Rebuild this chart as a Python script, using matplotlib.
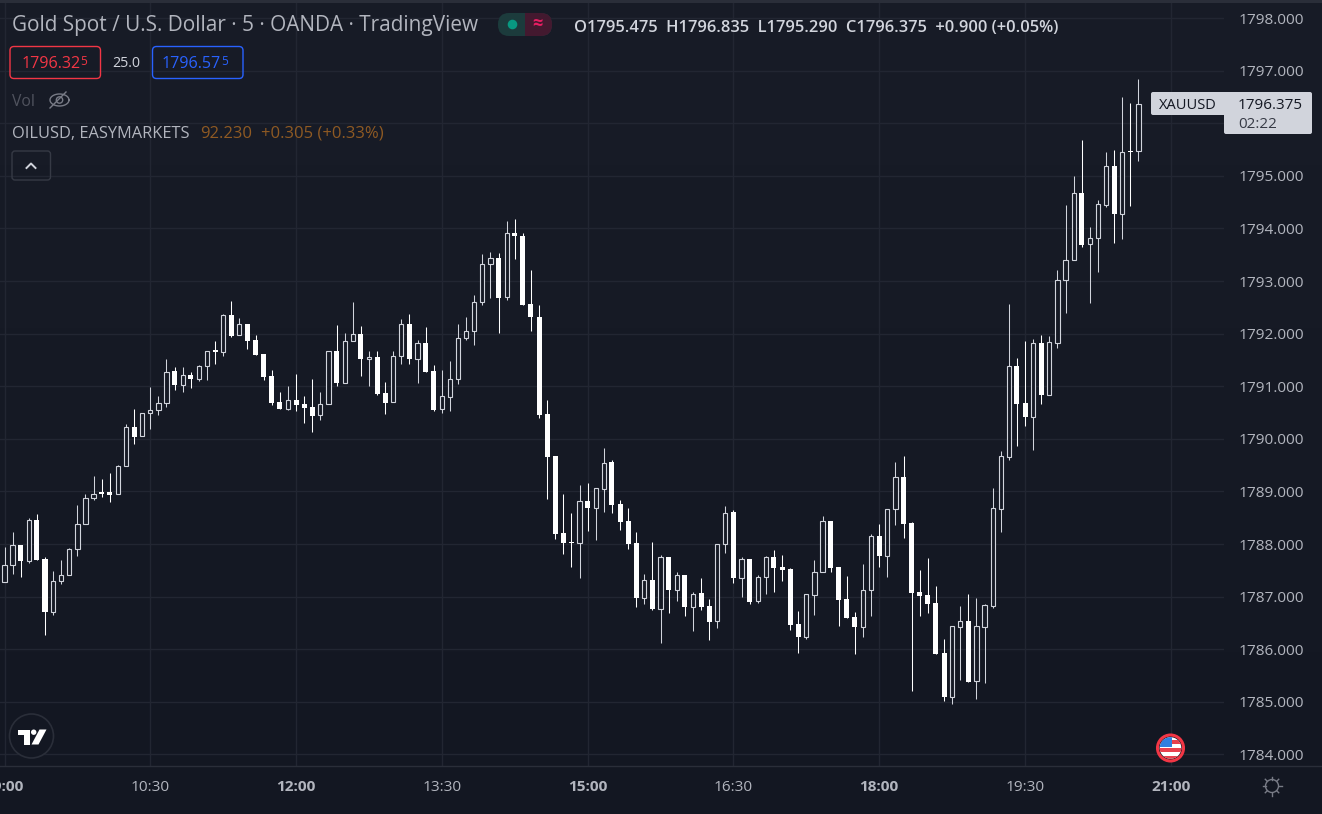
import numpy as np
import matplotlib
matplotlib.use('Agg')
import matplotlib.pyplot as plt
from matplotlib.patches import Circle, FancyBboxPatch, Polygon, Rectangle

plt.rcParams['font.family'] = ['Open Sans', 'DejaVu Sans']

# ----------------------------- data -----------------------------
opens = [
    1787.27, 1787.61, 1787.98, 1787.67, 1788.46, 1787.71, 1786.70, 1787.29, 1787.41, 1787.90,
    1788.39, 1788.87, 1788.99, 1788.99, 1788.95, 1789.48, 1790.22, 1790.05, 1790.49, 1790.54,
    1790.69, 1791.29, 1791.03, 1791.21, 1791.14, 1791.38, 1791.69, 1791.66, 1792.35, 1791.97,
    1792.18, 1791.88, 1791.61, 1791.20, 1790.70, 1790.57, 1790.74, 1790.66, 1790.61, 1790.45,
    1790.66, 1791.67, 1791.07, 1791.87, 1792.00, 1791.51, 1791.56, 1790.87, 1790.70, 1791.57,
    1792.19, 1791.51, 1791.82, 1791.29, 1790.56, 1790.80, 1791.13, 1791.91, 1792.05, 1792.60,
    1793.32, 1793.44, 1792.69, 1793.92, 1793.86, 1792.57, 1792.32, 1790.47, 1789.68, 1788.21,
    1788.04, 1788.03, 1788.82, 1788.69, 1789.05, 1789.56, 1788.76, 1788.44, 1788.02, 1786.98,
    1787.32, 1786.77, 1787.76, 1787.13, 1787.41, 1786.81, 1787.07, 1786.82, 1786.53, 1788.01,
    1788.61, 1787.36, 1787.72, 1786.91, 1787.37, 1787.76, 1787.56, 1787.53, 1786.48, 1786.24,
    1787.04, 1787.46, 1788.44, 1787.56, 1786.96, 1786.61, 1786.43, 1787.12, 1788.15, 1787.78,
    1788.66, 1789.28, 1788.40, 1787.09, 1787.03, 1786.88, 1785.93, 1785.10, 1786.43, 1786.54,
    1785.39, 1786.43, 1786.83, 1788.67, 1789.66, 1791.38, 1790.68, 1790.42, 1791.82, 1790.84,
    1791.83, 1793.03, 1793.41, 1794.67, 1793.70, 1793.81, 1794.45, 1795.19, 1794.28, 1795.47,
    1795.475,
]
highs = [
    1787.95, 1788.23, 1787.98, 1788.50, 1788.57, 1787.75, 1787.49, 1787.70, 1787.92, 1788.74,
    1788.95, 1789.29, 1789.24, 1789.35, 1789.50, 1790.28, 1790.57, 1790.49, 1790.99, 1790.82,
    1791.52, 1791.37, 1791.37, 1791.27, 1791.40, 1791.68, 1791.86, 1792.37, 1792.62, 1792.30,
    1792.18, 1791.97, 1791.61, 1791.31, 1790.89, 1791.00, 1791.23, 1790.82, 1791.14, 1790.89,
    1791.67, 1792.17, 1792.01, 1792.60, 1792.15, 1791.67, 1791.67, 1791.08, 1791.67, 1792.28,
    1792.38, 1791.88, 1792.13, 1791.41, 1791.31, 1791.48, 1792.19, 1792.32, 1792.74, 1793.52,
    1793.55, 1793.53, 1794.14, 1794.18, 1793.92, 1793.21, 1792.55, 1790.74, 1789.68, 1788.95,
    1788.59, 1789.12, 1789.16, 1789.06, 1789.83, 1789.60, 1788.84, 1788.69, 1788.23, 1787.43,
    1788.04, 1787.79, 1787.76, 1787.47, 1787.41, 1787.09, 1787.36, 1786.96, 1788.01, 1788.72,
    1788.65, 1787.76, 1787.72, 1787.41, 1787.77, 1787.89, 1787.79, 1787.55, 1786.73, 1787.05,
    1787.70, 1788.53, 1788.44, 1787.56, 1787.39, 1786.71, 1787.62, 1788.19, 1788.38, 1788.66,
    1789.56, 1789.68, 1788.42, 1787.51, 1787.74, 1787.20, 1786.20, 1786.44, 1786.82, 1787.05,
    1786.98, 1786.86, 1789.07, 1789.77, 1792.56, 1791.54, 1791.86, 1791.90, 1791.98, 1791.96,
    1793.21, 1794.45, 1795.00, 1795.68, 1794.03, 1794.54, 1795.45, 1795.49, 1796.50, 1796.39,
    1796.835,
]
lows = [
    1787.27, 1787.43, 1787.38, 1787.64, 1787.70, 1786.27, 1786.66, 1787.25, 1787.41, 1787.77,
    1788.39, 1788.84, 1788.90, 1788.80, 1788.95, 1789.48, 1789.90, 1790.05, 1790.19, 1790.45,
    1790.61, 1790.93, 1790.89, 1790.97, 1791.11, 1791.12, 1791.42, 1791.58, 1791.94, 1791.97,
    1791.71, 1791.60, 1791.12, 1790.64, 1790.57, 1790.55, 1790.53, 1790.30, 1790.13, 1790.36,
    1790.66, 1791.01, 1791.07, 1791.87, 1791.20, 1791.01, 1790.84, 1790.47, 1790.70, 1791.42,
    1791.42, 1791.06, 1791.27, 1790.53, 1790.49, 1790.53, 1791.04, 1791.88, 1791.79, 1792.55,
    1792.68, 1792.01, 1792.64, 1793.42, 1792.55, 1792.05, 1790.40, 1788.86, 1788.10, 1787.81,
    1787.56, 1787.36, 1788.25, 1788.08, 1788.61, 1788.59, 1788.27, 1787.91, 1786.80, 1786.86,
    1786.75, 1786.12, 1786.69, 1786.92, 1786.63, 1786.35, 1786.75, 1786.18, 1786.41, 1787.83,
    1787.26, 1786.99, 1786.86, 1786.88, 1787.05, 1787.09, 1787.30, 1786.37, 1785.93, 1786.20,
    1786.65, 1787.46, 1787.47, 1786.44, 1786.60, 1785.91, 1786.23, 1786.63, 1787.56, 1787.37,
    1788.36, 1788.12, 1785.21, 1786.63, 1786.69, 1785.91, 1785.02, 1784.96, 1785.42, 1785.38,
    1785.06, 1785.36, 1786.79, 1788.23, 1789.59, 1789.87, 1790.25, 1789.79, 1790.66, 1790.84,
    1791.73, 1792.39, 1793.41, 1793.65, 1792.58, 1793.17, 1794.41, 1793.72, 1793.80, 1794.43,
    1795.29,
]
closes = [
    1787.61, 1787.98, 1787.67, 1788.46, 1787.70, 1786.70, 1787.29, 1787.41, 1787.90, 1788.39,
    1788.87, 1788.96, 1788.96, 1788.94, 1789.48, 1790.22, 1790.04, 1790.49, 1790.54, 1790.69,
    1791.28, 1791.03, 1791.21, 1791.14, 1791.38, 1791.68, 1791.66, 1792.35, 1791.96, 1792.18,
    1791.87, 1791.60, 1791.18, 1790.69, 1790.57, 1790.73, 1790.65, 1790.59, 1790.44, 1790.66,
    1791.67, 1791.07, 1791.87, 1791.99, 1791.51, 1791.55, 1790.85, 1790.69, 1791.57, 1792.18,
    1791.51, 1791.82, 1791.27, 1790.55, 1790.81, 1791.13, 1791.91, 1792.05, 1792.60, 1793.32,
    1793.43, 1792.68, 1793.91, 1793.85, 1792.55, 1792.31, 1790.46, 1789.66, 1788.19, 1788.02,
    1788.02, 1788.81, 1788.69, 1789.06, 1789.55, 1788.74, 1788.42, 1788.00, 1786.98, 1787.31,
    1786.77, 1787.75, 1787.13, 1787.41, 1786.80, 1787.06, 1786.80, 1786.52, 1788.01, 1788.60,
    1787.36, 1787.71, 1786.90, 1787.37, 1787.75, 1787.55, 1787.51, 1786.46, 1786.23, 1787.05,
    1787.46, 1788.43, 1787.55, 1786.94, 1786.60, 1786.42, 1787.12, 1788.15, 1787.77, 1788.66,
    1789.27, 1788.38, 1787.07, 1787.01, 1786.86, 1785.91, 1785.09, 1786.44, 1786.53, 1785.38,
    1786.44, 1786.84, 1788.68, 1789.67, 1791.38, 1790.67, 1790.42, 1791.82, 1790.83, 1791.84,
    1793.03, 1793.41, 1794.67, 1793.69, 1793.81, 1794.46, 1795.18, 1794.28, 1795.45, 1795.45,
    1796.375,
]

price_ticks = list(range(1784, 1799))
hidden_price = 1796  # sits behind the last price tag
time_positions = [0, 18, 36, 54, 72, 90, 108, 126, 144]
time_labels = ['09:00', '10:30', '12:00', '13:30', '15:00', '16:30', '18:00', '19:30', '21:00']
bold_times = ['09:00', '12:00', '15:00', '18:00', '21:00']

# ----------------------------- colours -----------------------------
TEXT = '#b2b5be'
LIGHT = '#d1d4dc'
GRID = '#222632'
W, H = 1322, 814

fig = plt.figure(figsize=(W / 100, H / 100), dpi=100, facecolor='#131722')

# background gradient
bg = fig.add_axes([0, 0, 1, 1], zorder=0)
bg.imshow(np.linspace(0, 1, 256).reshape(-1, 1), aspect='auto', extent=[0, 1, 0, 1],
          cmap=matplotlib.colors.LinearSegmentedColormap.from_list('bg', ['#181c27', '#131722']))
bg.axis('off')

# ----------------------------- candles -----------------------------
ax = fig.add_axes([0, 1 - 766 / H, 1224 / W, 763 / H], zorder=1, facecolor='none')
ax.set_xlim(-0.5556, 150.56)
ax.set_ylim(1783.781, 1798.287)

o, h, l, c = map(np.array, (opens, highs, lows, closes))
idx = np.arange(len(o))
up = c >= o

ax.vlines(idx[up], l[up], h[up], color=LIGHT, lw=0.75, zorder=3)
ax.vlines(idx[~up], l[~up], h[~up], color='white', lw=0.75, zorder=3)
ax.bar(idx[up], (c - o)[up], bottom=o[up], width=0.52, facecolor='#161a25',
       edgecolor=LIGHT, linewidth=0.8, zorder=4)
ax.bar(idx[~up], (o - c)[~up], bottom=c[~up], width=0.62, color='white', linewidth=0, zorder=4)

ax.set_yticks(price_ticks)
ax.set_yticklabels(['' if p == hidden_price else f'{p:.3f}' for p in price_ticks])
ax.yaxis.tick_right()
ax.set_xticks(time_positions)
ax.set_xticklabels(time_labels)
ax.tick_params(axis='y', length=0, pad=10.5, labelsize=11.1, labelcolor=TEXT)
ax.tick_params(axis='x', length=0, pad=10, labelsize=11.1, labelcolor=TEXT)
for lab in ax.get_xticklabels():
    if lab.get_text() in bold_times:
        lab.set_fontweight('bold')
ax.grid(True, color=GRID, lw=1)
ax.set_axisbelow(True)
for s in ax.spines.values():
    s.set_visible(False)

# ----------------------------- overlay in pixel coordinates -----------------------------
ov = fig.add_axes([0, 0, 1, 1], zorder=2, facecolor='none')
ov.set_xlim(0, W)
ov.set_ylim(H, 0)
ov.axis('off')


def box(x0, y0, x1, y1, fc='none', ec='none', lw=1, r=3):
    p = FancyBboxPatch((x0 + r, y0 + r), x1 - x0 - 2 * r, y1 - y0 - 2 * r,
                       boxstyle=f'round,pad={r},rounding_size={r}', fc=fc, ec=ec, lw=lw)
    ov.add_patch(p)
    return p


def label(x, y, s, color=TEXT, size=11, ha='left', **kw):
    return ov.text(x, y + 1.5, s, color=color, fontsize=size, ha=ha, va='center', **kw)


ov.add_patch(Rectangle((0, 0), W, 3, fc='#2a2e39', ec='none'))
ov.plot([0, W], [766, 766], color='#2a2e39', lw=1)

# header
label(12, 24.5, 'Gold Spot / U.S. Dollar · 5 · OANDA · TradingView', size=14.95)
label(574, 26, 'O1795.475  H1796.835  L1795.290  C1796.375  +0.900 (+0.05%)', color=LIGHT,
      size=11.9, fontweight='semibold')

# market status pill
box(498, 13, 552, 36, fc='#1c3b3c', r=11)
clip = box(498, 13, 552, 36, fc='none', r=11)
half = Rectangle((525, 13), 27, 23, fc='#43192f', ec='none')
ov.add_patch(half)
half.set_clip_path(clip)
ov.add_patch(Circle((512.5, 24.5), 4.8, fc='#089981', ec='none'))
label(537, 23, '≈', color='#e91e63', size=13, ha='center', fontweight='bold')

# bid / ask
box(10, 46.5, 100.5, 78.5, ec='#f23645', lw=1, r=4)
label(21.5, 62, '1796.32', color='#f23645', size=11.6)
label(80, 60, '5', color='#f23645', size=8.5)
label(112, 62, '25.0', color=LIGHT, size=10.3)
box(152.5, 46.5, 243, 78.5, ec='#2962ff', lw=1, r=4)
label(162, 62, '1796.57', color='#2962ff', size=11.6)
label(221, 60, '5', color='#2962ff', size=8.5)

# Vol and hidden-eye icon
label(12, 100, 'Vol', color='#50535e', size=11.3)
t = np.linspace(0, 2 * np.pi, 60)
ov.plot(59.5 + 9.5 * np.cos(t), 100 + 6 * np.sin(t), color='#787b86', lw=1)
ov.add_patch(Circle((59.5, 100), 3.2, fc='none', ec='#787b86', lw=1))
ov.plot([50, 66], [108, 92], color='#787b86', lw=1)

# compare symbol
label(12, 132.5, 'OILUSD, EASYMARKETS', size=11.8, fontweight='medium')
label(200, 132.5, '92.230', color='#8f5a23', size=12)
label(261, 132.5, '+0.305 (+0.33%)', color='#8f5a23', size=12)

# collapse button
box(12, 151, 50.5, 180, ec='#363a45', lw=1, r=3)
ov.plot([26.5, 31, 35.5], [168, 163.5, 168], color=LIGHT, lw=1.4)

# last price tag
box(1151, 92, 1240, 115, fc=LIGHT, r=2)
box(1224, 92, 1312, 134, fc=LIGHT, r=2)
label(1159, 104, 'XAUUSD', color='#131722', size=10.5)
label(1238, 104, '1796.375', color='#131722', size=11)
label(1238, 123, '02:22', color='#363a45', size=11)

# logo
ov.add_patch(Circle((31.5, 736), 22, fc='#131722', ec='#2a2e39', lw=1.2))
ov.add_patch(Polygon([(17.5, 729.5), (29.5, 729.5), (29.5, 744.5), (24, 744.5), (24, 735), (17.5, 735)],
                     fc='white', ec='none'))
ov.add_patch(Circle((33.7, 732.2), 2.7, fc='white', ec='none'))
ov.add_patch(Polygon([(39.5, 729.5), (46.5, 729.5), (38.5, 744.5), (31.5, 744.5)], fc='white', ec='none'))

# flag
ov.add_patch(Circle((1170.5, 748), 13, fc='none', ec='#f23645', lw=2.2))
disc = Circle((1170.5, 748), 10.8, fc='white', ec='none')
ov.add_patch(disc)
for yy in [737, 745, 753]:
    s = Rectangle((1158, yy + 3.2), 26, 3.4, fc='#e8404e', ec='none')
    ov.add_patch(s)
    s.set_clip_path(disc)
s = Rectangle((1158, 734), 13.5, 13, fc='#2f7fe0', ec='none')
ov.add_patch(s)
s.set_clip_path(disc)

# settings icon
ov.add_patch(Circle((1272, 786), 6.5, fc='none', ec='#787b86', lw=1))
for a in np.arange(8) * np.pi / 4:
    ov.plot([1272 + 6.5 * np.cos(a), 1272 + 9.5 * np.cos(a)],
            [786 + 6.5 * np.sin(a), 786 + 9.5 * np.sin(a)], color='#787b86', lw=1)

fig.savefig('out.png', dpi=100, facecolor=fig.get_facecolor())
